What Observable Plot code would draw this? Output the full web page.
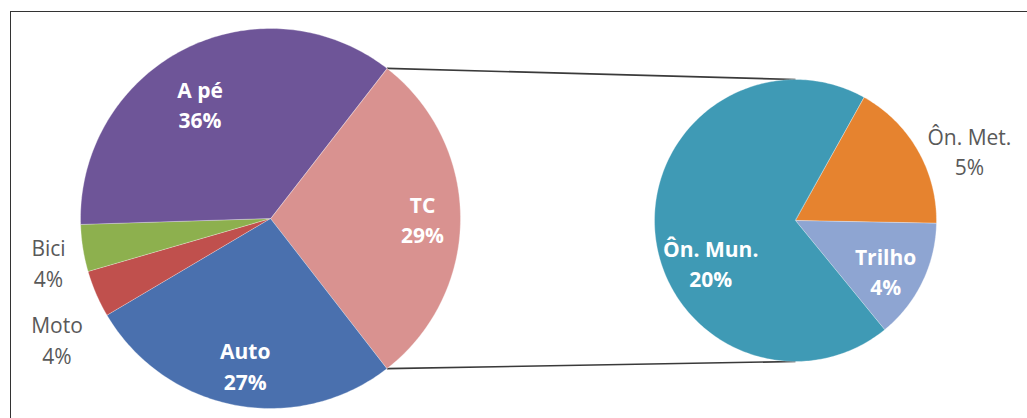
<!DOCTYPE html>
<html><head><meta charset="utf-8">
<script src="https://cdn.jsdelivr.net/npm/d3@7"></script>
<script src="https://cdn.jsdelivr.net/npm/@observablehq/plot@0.6"></script>
<style>
body{margin:0;background:#fff;overflow:hidden}
#wrap{position:relative;width:1027px;height:418px}
#border{position:absolute;left:10px;top:11px;right:-5px;bottom:-5px;border-left:1.5px solid #333;border-top:1.5px solid #333;pointer-events:none}
</style></head><body><div id="wrap"><div id="border"></div></div>
<script>
// ---- data ----
const mainCategories = ["TC", "Auto", "Moto", "Bici", "A pé"];
const mainValues = [29, 27, 4, 4, 36];
const subCategories = ["Ôn. Met.", "Trilho", "Ôn. Mun."];
const subValues = [5, 4, 20];
const labelTexts = {"TC":"TC\n29%","Auto":"Auto\n27%","Moto":"Moto\n4%","Bici":"Bici\n4%","A pé":"A pé\n36%","Ôn. Met.":"Ôn. Met.\n5%","Trilho":"Trilho\n4%","Ôn. Mun.":"Ôn. Mun.\n20%"};

// ---- styles / layout ----
const colorMap = {"TC":"#D99290","Auto":"#4A70AE","Moto":"#C0504D","Bici":"#8DB04E","A pé":"#6E5598","Ôn. Met.":"#E6832F","Trilho":"#8EA5D2","Ôn. Mun.":"#3F9AB5"};
const mainPie = {cx: 270, cy: 218, r: 190};
const subPie = {cx: 795, cy: 220, r: 141};
const subStartDeg = 29;
// label placement: radius fraction, angle tweak (deg), inside?
const labelPlace = {"TC":[0.8,0,true],"Auto":[0.78,-1,true],"Moto":[1.29,-6,false],"Bici":[1.19,-2,false],"A pé":[0.71,-4.5,true],"Ôn. Met.":[1.33,8,false],"Trilho":[0.73,3,true],"Ôn. Mun.":[0.67,-21,true]};

const rad = d => d * Math.PI / 180;
const total = d3.sum(mainValues);
const tcSpan = 2 * Math.PI * mainValues[0] / total;
const mainArcs = d3.pie().sort(null).startAngle(Math.PI/2 - tcSpan/2).endAngle(Math.PI/2 - tcSpan/2 + 2*Math.PI)(mainValues);
const subArcs = d3.pie().sort(null).startAngle(rad(subStartDeg)).endAngle(rad(subStartDeg) + 2*Math.PI)(subValues);

const pt = (p, a, r) => ({x: p.cx + r * Math.sin(a), y: p.cy - r * Math.cos(a)});
const points = [];
const labels = [];
function addSlices(arcs, cats, p) {
  arcs.forEach((a, i) => {
    const name = cats[i];
    const c = pt(p, 0, 0);
    points.push({name, ...c});
    const n = Math.max(4, Math.ceil((a.endAngle - a.startAngle) / rad(1)));
    for (let k = 0; k <= n; k++) {
      const ang = a.startAngle + (a.endAngle - a.startAngle) * k / n;
      points.push({name, ...pt(p, ang, p.r)});
    }
    const [f, tw, inside] = labelPlace[name];
    const mid = (a.startAngle + a.endAngle) / 2 + rad(tw);
    labels.push({name, text: labelTexts[name], inside, ...pt(p, mid, p.r * f)});
  });
}
addSlices(mainArcs, mainCategories, mainPie);
addSlices(subArcs, subCategories, subPie);

const tcArc = mainArcs[0];
const connectors = [
  {a: pt(mainPie, tcArc.startAngle, mainPie.r), b: pt(subPie, 0, subPie.r)},
  {a: pt(mainPie, tcArc.endAngle, mainPie.r), b: pt(subPie, Math.PI, subPie.r)}
].map(d => ({x1: d.a.x, y1: d.a.y, x2: d.b.x, y2: d.b.y}));

const allCats = [...mainCategories, ...subCategories];
const chart = Plot.plot({
  width: 1027, height: 418, margin: 0,
  x: {domain: [0, 1027], range: [0, 1027], axis: null},
  y: {domain: [0, 418], range: [0, 418], axis: null},
  color: {domain: allCats, range: allCats.map(c => colorMap[c])},
  marks: [
    Plot.link(connectors, {x1: "x1", y1: "y1", x2: "x2", y2: "y2", stroke: "#3a3a3a", strokeWidth: 1.6}),
    Plot.line(points, {x: "x", y: "y", z: "name", fill: "name", stroke: "white", strokeWidth: 0.8, strokeOpacity: 0.4, curve: "linear-closed"}),
    Plot.text(labels.filter(d => d.inside), {x: "x", y: "y", text: "text", fill: "white", fontWeight: "bold", fontSize: 21, lineHeight: 1.45, fontFamily: "Open Sans"}),
    Plot.text(labels.filter(d => !d.inside), {x: "x", y: "y", text: "text", fill: "#595959", fontSize: 21, lineHeight: 1.45, fontFamily: "Open Sans"})
  ]
});
document.getElementById("wrap").prepend(chart);
</script>
</body></html>
